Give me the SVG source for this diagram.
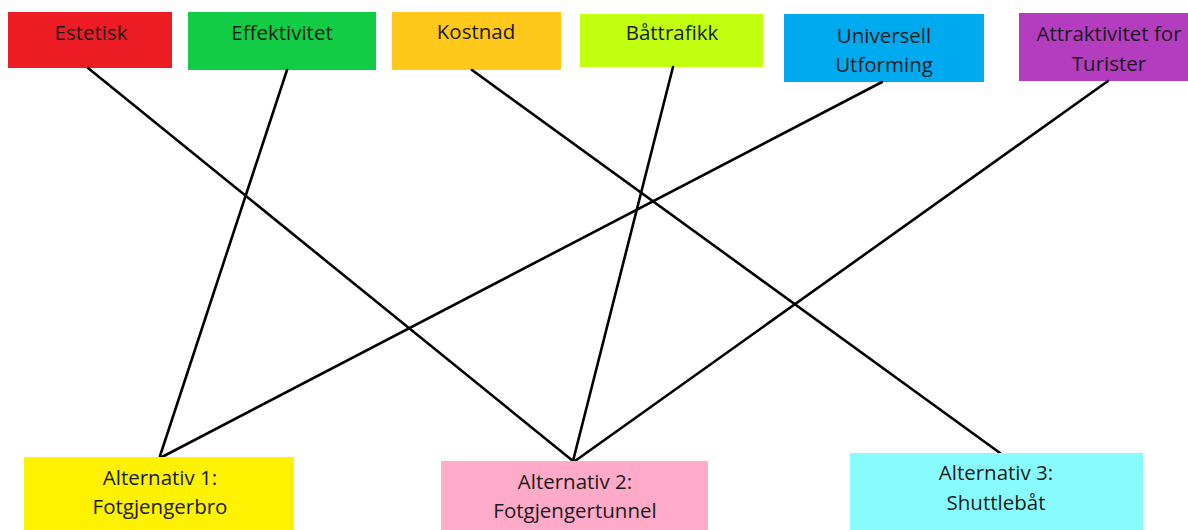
<svg xmlns="http://www.w3.org/2000/svg" width="1188" height="530" viewBox="0 0 1188 530">
<style>
text{font-family:"Open Sans","Noto Sans","Liberation Sans",sans-serif;font-size:20.5px;fill:#1a1a1a;text-anchor:middle}
.c line{stroke:#000;stroke-width:2.6;stroke-linecap:round}
</style>
<rect width="1188" height="530" fill="#fff"/>
<g id="estetisk"><rect x="8" y="12" width="164" height="56" fill="#ed1c24"/><text x="91" y="40">Estetisk</text></g>
<g id="effektivitet"><rect x="188" y="12" width="188" height="58" fill="#11cc44"/><text x="282" y="40">Effektivitet</text></g>
<g id="kostnad"><rect x="392" y="12" width="169" height="58" fill="#ffc81a"/><text x="476" y="39">Kostnad</text></g>
<g id="battrafikk"><rect x="580" y="14" width="183" height="53" fill="#c0ff10"/><text x="672" y="40">Båttrafikk</text></g>
<g id="universell"><rect x="784" y="14" width="200" height="68" fill="#00aaee"/><text x="884" y="43">Universell</text><text x="884" y="72">Utforming</text></g>
<g id="attraktivitet"><rect x="1019" y="13" width="169" height="68" fill="#b43cbe"/><text x="1109" y="41">Attraktivitet for</text><text x="1109" y="71">Turister</text></g>
<g class="c" id="connectors">
<line x1="88" y1="68" x2="573" y2="461"/>
<line x1="287" y1="70" x2="160" y2="456"/>
<line x1="472" y1="70" x2="1000" y2="453"/>
<line x1="673" y1="67" x2="573" y2="461"/>
<line x1="882" y1="82" x2="162" y2="457"/>
<line x1="1108" y1="81" x2="575" y2="461"/>
</g>
<g id="alt1"><rect x="24" y="457" width="270" height="73" fill="#fff200"/><text x="160" y="485">Alternativ 1:</text><text x="160" y="514">Fotgjengerbro</text></g>
<g id="alt2"><rect x="441" y="461" width="267" height="69" fill="#ffaac8"/><text x="575" y="489">Alternativ 2:</text><text x="575" y="518">Fotgjengertunnel</text></g>
<g id="alt3"><rect x="850" y="453" width="293" height="77" fill="#88fcfc"/><text x="996" y="480">Alternativ 3:</text><text x="996" y="510">Shuttlebåt</text></g>
</svg>
